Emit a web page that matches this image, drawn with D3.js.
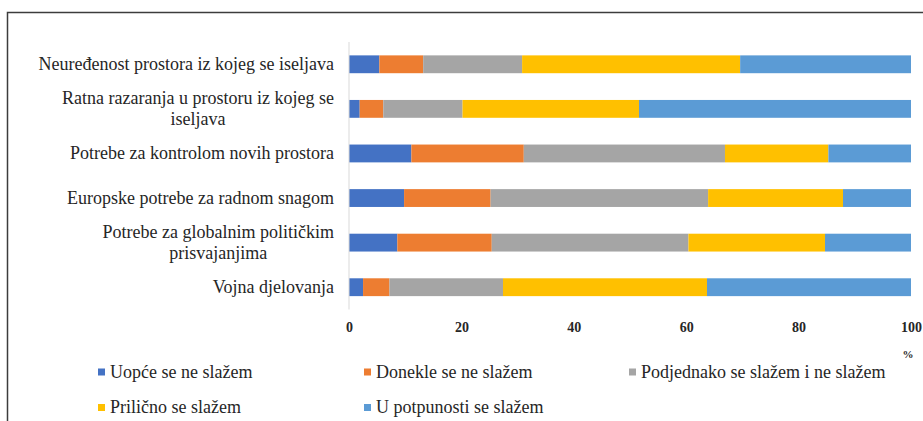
<!DOCTYPE html>
<html>
<head>
<meta charset="utf-8">
<script src="https://cdn.jsdelivr.net/npm/d3@7"></script>
<style>
  html, body { margin: 0; padding: 0; background: #fff; }
  svg { display: block; }
</style>
</head>
<body>
<svg id="chart" width="923" height="421"></svg>
<script>
const categories = [
  "Neuređenost prostora iz kojeg se iseljava",
  "Ratna razaranja u prostoru iz kojeg se|iseljava",
  "Potrebe za kontrolom novih prostora",
  "Europske potrebe za radnom snagom",
  "Potrebe za globalnim političkim|prisvajanjima",
  "Vojna djelovanja"
];
const seriesNames = [
  "Uopće se ne slažem",
  "Donekle se ne slažem",
  "Podjednako se slažem i ne slažem",
  "Prilično se slažem",
  "U potpunosti se slažem"
];
const uopce       = [5.4, 1.9, 11.1, 9.8, 8.6, 2.5];
const donekle     = [7.8, 4.2, 20.0, 15.4, 16.8, 4.7];
const podjednako  = [17.6, 14.1, 35.8, 38.7, 35.0, 20.2];
const prilicno    = [38.8, 31.4, 18.4, 24.0, 24.3, 36.3];
const potpunosti  = [30.4, 48.4, 14.7, 12.1, 15.3, 36.3];
const xTicks = [0, 20, 40, 60, 80, 100];
const colors = ["#4472C4", "#ED7D31", "#A5A5A5", "#FFC000", "#5B9BD5"];

const seriesValues = [uopce, donekle, podjednako, prilicno, potpunosti];
const rows = categories.map((c, i) => {
  const r = { cat: c };
  seriesNames.forEach((s, j) => r[s] = seriesValues[j][i]);
  return r;
});

const svg = d3.select("#chart");
const FONT = '"Liberation Serif"';

// frame
svg.append("path")
  .attr("d", "M7.5,421 L7.5,12.5 L923,12.5")
  .attr("fill", "none").attr("stroke", "#3c3c3c").attr("stroke-width", 1.5);

const x = d3.scaleLinear().domain([0, 100]).range([349, 911]);
const y = d3.scaleBand().domain(categories).range([42, 309.5])
  .paddingInner(0.6).paddingOuter(0.3);

const stack = d3.stack().keys(seriesNames)(rows);

svg.append("g").selectAll("g").data(stack).join("g")
  .attr("fill", (d, i) => colors[i])
  .selectAll("rect").data(d => d.map(v => ({ v, cat: v.data.cat }))).join("rect")
  .attr("x", d => x(d.v[0]))
  .attr("width", d => x(d.v[1]) - x(d.v[0]))
  .attr("y", d => y(d.cat))
  .attr("height", y.bandwidth());

// vertical axis line
svg.append("line")
  .attr("x1", 349).attr("x2", 349)
  .attr("y1", 42).attr("y2", 309.5)
  .attr("stroke", "#d9d9d9").attr("stroke-width", 1);

// x axis
const xAxis = svg.append("g")
  .attr("transform", "translate(0,319)")
  .call(d3.axisBottom(x).tickValues(xTicks).tickSize(0).tickPadding(0));
xAxis.select(".domain").remove();
xAxis.selectAll("text")
  .attr("dy", "0.95em")
  .attr("y", 0)
  .style("font-family", FONT)
  .style("font-size", "14px")
  .style("font-weight", "bold")
  .attr("fill", "#262626");

svg.append("text").attr("x", 908).attr("y", 358)
  .attr("text-anchor", "middle")
  .style("font-family", FONT)
  .style("font-size", "11px")
  .style("font-weight", "bold")
  .attr("fill", "#262626")
  .text("%");

// category labels (right-aligned block; wrapped lines centred on each other)
const labelRight = 334;
const lineH = 21;
const labelGroups = [];
categories.forEach(c => {
  const lines = c.split("|");
  const cy = y(c) + y.bandwidth() / 2;
  const g = svg.append("g");
  const texts = lines.map((l, k) => g.append("text")
    .attr("x", labelRight)
    .attr("y", cy + (k - (lines.length - 1) / 2) * lineH + 5.5)
    .attr("text-anchor", "end")
    .style("font-family", FONT)
    .style("font-size", "18px")
    .attr("fill", "#262626")
    .text(l));
  labelGroups.push(texts);
});

// legend
const legendPos = [
  [98, 372], [364, 372], [629, 372],
  [98, 407.5], [364, 407.5]
];
seriesNames.forEach((s, i) => {
  const [lx, ly] = legendPos[i];
  svg.append("rect").attr("x", lx).attr("y", ly - 3.5)
    .attr("width", 7).attr("height", 7).attr("fill", colors[i]);
  svg.append("text").attr("x", lx + 12).attr("y", ly + 5.5)
    .style("font-family", FONT)
    .style("font-size", "18px")
    .attr("fill", "#262626")
    .text(s);
});

function centreWrapped() {
  labelGroups.forEach(texts => {
    if (texts.length < 2) return;
    const widths = texts.map(t => t.node().getBBox().width);
    const maxW = d3.max(widths);
    texts.forEach(t => t.attr("x", labelRight - maxW / 2).attr("text-anchor", "middle"));
  });
}
if (document.fonts && document.fonts.ready) {
  document.fonts.ready.then(() => requestAnimationFrame(centreWrapped));
}
</script>
</body>
</html>
